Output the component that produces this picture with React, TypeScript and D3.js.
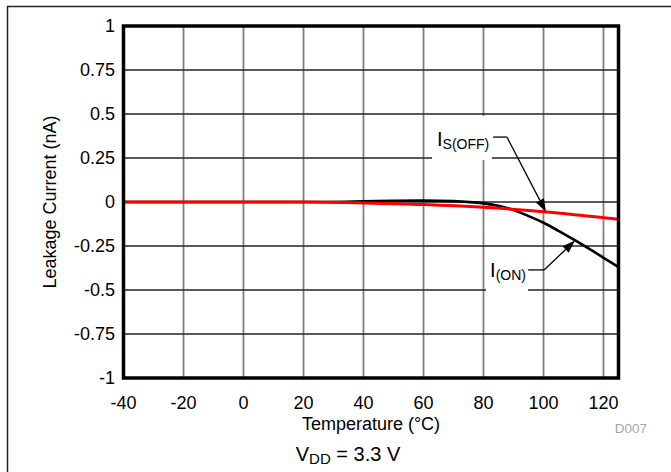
import * as d3 from "d3";

const W = 671;
const H = 472;

// x axis: temperature (°C)
const xTicks = [-40, -20, 0, 20, 40, 60, 80, 100, 120];
// y axis: leakage current (nA)
const yTicks = [1, 0.75, 0.5, 0.25, 0, -0.25, -0.5, -0.75, -1];

// I(ON) curve
const onTemps = [-40, -20, 0, 20, 40, 50, 60, 70, 80, 85, 90, 95, 100, 105, 110, 115, 120, 125];
const onValues = [0, 0, 0, 0, 0.004, 0.007, 0.008, 0.005, -0.008, -0.022, -0.045, -0.08, -0.118, -0.164, -0.213, -0.264, -0.317, -0.37];

// I_S(OFF) curve
const offTemps = [-40, -20, 0, 20, 40, 60, 80, 100, 125];
const offValues = [0, 0, 0, 0, -0.005, -0.014, -0.03, -0.055, -0.098];

const fontFamily = "'Liberation Sans', Arial, Helvetica, sans-serif";

const x = d3.scaleLinear().domain([-40, 125]).range([123.5, 618.5]);
const y = d3.scaleLinear().domain([-1, 1]).range([378, 26]);

type Pt = { t: number; v: number };
const onData: Pt[] = onTemps.map((t, i) => ({ t, v: onValues[i] }));
const offData: Pt[] = offTemps.map((t, i) => ({ t, v: offValues[i] }));

const line = d3
  .line<Pt>()
  .x((d) => x(d.t))
  .y((d) => y(d.v))
  .curve(d3.curveMonotoneX);

// annotations: tip on curve, elbow and end of the leader in data units
const annotations = [
  {
    main: "I",
    sub: "S(OFF)",
    tip: { t: 100.8, v: -0.056 },
    elbow: { t: 87.8, v: 0.369 },
    endT: 83.2,
    textT: 64.5,
    textV: 0.318,
    box: [432, 116, 60, 44],
  },
  {
    main: "I",
    sub: "(ON)",
    tip: { t: 110.5, v: -0.219 },
    elbow: { t: 100.2, v: -0.386 },
    endT: 94.9,
    textT: 82.2,
    textV: -0.428,
    box: [486, 262, 42, 31],
  },
];

function Arrow({ x1, y1, x2, y2 }: { x1: number; y1: number; x2: number; y2: number }) {
  // filled triangular head ending at (x2, y2)
  const ang = Math.atan2(y2 - y1, x2 - x1);
  const len = 13;
  const half = 4.5;
  const bx = x2 - len * Math.cos(ang);
  const by = y2 - len * Math.sin(ang);
  const px = -Math.sin(ang) * half;
  const py = Math.cos(ang) * half;
  return (
    <g>
      <line x1={x1} y1={y1} x2={bx} y2={by} stroke="#000" strokeWidth={1.3} />
      <path d={`M${x2},${y2} L${bx + px},${by + py} L${bx - px},${by - py} Z`} fill="#000" />
    </g>
  );
}

export default function App() {
  const [pl, pr] = x.range();
  const [pb, pt] = y.range();

  return (
    <svg
      width={W}
      height={H}
      style={{ position: "absolute", left: 0, top: 0, background: "#fff" }}
      fontFamily={fontFamily}
    >
      {/* outer frame */}
      <line x1={7} y1={6.5} x2={W} y2={6.5} stroke="#222" strokeWidth={1.5} />
      <line x1={7.5} y1={6} x2={7.5} y2={H} stroke="#222" strokeWidth={1.5} />

      {/* vertical grid */}
      {xTicks.slice(1).map((t) => (
        <line key={t} x1={x(t)} x2={x(t)} y1={pt} y2={pb} stroke="#808080" strokeWidth={1.8} />
      ))}
      {/* horizontal grid */}
      {yTicks.slice(1, -1).map((v) => (
        <line key={v} x1={pl} x2={pr} y1={y(v)} y2={y(v)} stroke="#222" strokeWidth={1.3} />
      ))}

      {/* annotation backgrounds */}
      {annotations.map((a, i) => (
        <rect key={i} x={a.box[0]} y={a.box[1]} width={a.box[2]} height={a.box[3]} fill="#fff" />
      ))}

      {/* curves */}
      <path d={line(onData) ?? ""} fill="none" stroke="#000" strokeWidth={2.6} />
      <path d={line(offData) ?? ""} fill="none" stroke="#ff0000" strokeWidth={3} />

      {/* plot border */}
      <rect x={pl} y={pt} width={pr - pl} height={pb - pt} fill="none" stroke="#000" strokeWidth={3.5} />

      {/* annotations */}
      {annotations.map((a, i) => {
        const ex = x(a.elbow.t);
        const ey = y(a.elbow.v);
        return (
          <g key={i}>
            <line x1={x(a.endT)} y1={ey} x2={ex} y2={ey} stroke="#000" strokeWidth={1.3} />
            <Arrow x1={ex} y1={ey} x2={x(a.tip.t)} y2={y(a.tip.v)} />
            <text x={x(a.textT)} y={y(a.textV)} fontSize={20} fill="#000">
              {a.main}
              <tspan fontSize={14} dy={3}>
                {a.sub}
              </tspan>
            </text>
          </g>
        );
      })}

      {/* y tick labels */}
      {yTicks.map((v) => (
        <text key={v} x={115} y={y(v)} dy="0.36em" textAnchor="end" fontSize={18} fill="#000">
          {v}
        </text>
      ))}
      {/* x tick labels */}
      {xTicks.map((t) => (
        <text key={t} x={x(t)} y={409} textAnchor="middle" fontSize={18} fill="#000">
          {t}
        </text>
      ))}

      <text
        transform={`translate(56,${y(0)}) rotate(-90)`}
        textAnchor="middle"
        fontSize={18}
        fill="#000"
      >
        Leakage Current (nA)
      </text>
      <text x={x(42.5)} y={429.5} textAnchor="middle" fontSize={18} fill="#000">
        Temperature (°C)
      </text>
      <text x={647} y={433} textAnchor="end" fontSize={13.5} fill="#a6a6a6">
        D007
      </text>
      <text x={348} y={461} textAnchor="middle" fontSize={20} fill="#000">
        V
        <tspan fontSize={15} dy={3}>
          DD
        </tspan>
        <tspan dy={-3}> = 3.3 V</tspan>
      </text>
    </svg>
  );
}
